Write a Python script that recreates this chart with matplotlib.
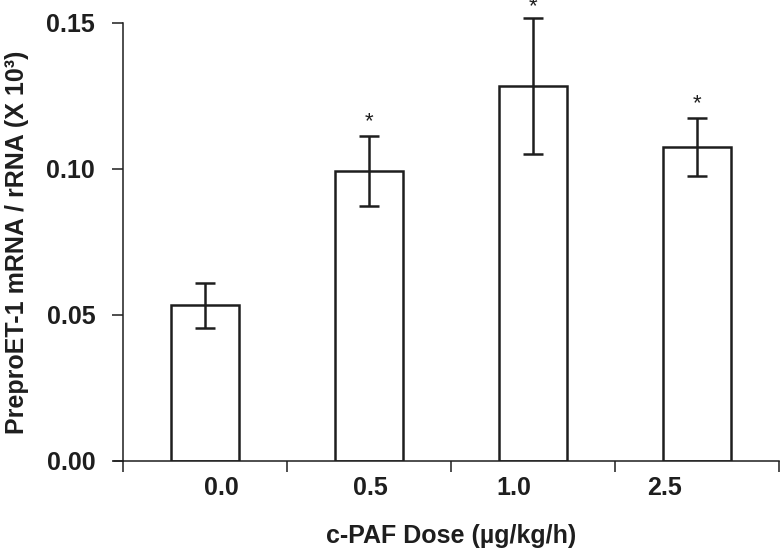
import matplotlib
matplotlib.use("Agg")
import matplotlib.pyplot as plt
from matplotlib.ticker import FormatStrFormatter, FixedLocator

# donnees
doses = ["0.0", "0.5", "1.0", "2.5"]
moyennes = [0.0533, 0.0992, 0.1283, 0.1075]
erreurs = [0.0077, 0.0120, 0.0233, 0.0099]
significatif = [False, True, True, True]

# decalage des etiquettes de l'axe x (elles ne sont pas centrees sur les barres)
decalage_etiquettes = [0.10, 0.01, -0.12, -0.20]

plt.rcParams['font.family'] = ['Liberation Sans', 'DejaVu Sans']
encre = "#1e1e1e"

fig = plt.figure(figsize=(7.81, 5.56), dpi=100)
ax = fig.add_axes([123/781, 95/556, 656/781, 438/556])

x = list(range(len(doses)))
ax.bar(x, moyennes, width=0.41, color="white", edgecolor=encre, linewidth=1.8, zorder=2)
eb = ax.errorbar(x, moyennes, yerr=erreurs, fmt="none", ecolor=encre, elinewidth=1.8,
                 capsize=7.5, capthick=1.8, zorder=3)
# la barre d'erreur de 1.0 depasse le haut de l'axe
for art in eb.lines[1] + eb.lines[2]:
    art.set_clip_on(False)

for i in range(len(doses)):
    if significatif[i]:
        # l'etoile de 1.0 est plus serree contre le bord en haut
        dy = 1 if moyennes[i] + erreurs[i] > 0.15 else 3
        ax.annotate("*", (x[i], moyennes[i] + erreurs[i]), xytext=(0, dy),
                    textcoords="offset points", ha="center", va="bottom",
                    fontsize=16, color=encre, annotation_clip=False)

ax.set_xlim(-0.5, len(doses) - 0.5)
ax.set_ylim(0, 0.15)

ax.spines["top"].set_visible(False)
ax.spines["right"].set_visible(False)
for s in ("left", "bottom"):
    ax.spines[s].set_linewidth(1.1)
    ax.spines[s].set_color(encre)

# ticks majeurs entre les categories, etiquettes en ticks mineurs
ax.xaxis.set_major_locator(FixedLocator([i - 0.5 for i in range(len(doses) + 1)]))
ax.xaxis.set_major_formatter(plt.NullFormatter())
ax.set_xticks([x[i] + decalage_etiquettes[i] for i in range(len(doses))], doses, minor=True)
ax.tick_params(axis="x", which="major", direction="out", length=8, width=1.1, color=encre)
ax.tick_params(axis="x", which="minor", length=0, pad=11, labelsize=18, labelcolor=encre)
for t in ax.get_xticklabels(minor=True):
    t.set_fontweight("bold")

ax.set_yticks([0, 0.05, 0.10, 0.15])
ax.yaxis.set_major_formatter(FormatStrFormatter("%.2f"))
ax.tick_params(axis="y", direction="out", length=8, width=1.1, color=encre,
               pad=12, labelsize=18, labelcolor=encre)
for t in ax.get_yticklabels():
    t.set_fontweight("bold")

# l'axe x depasse un peu a gauche
ax.plot([-0.013, 0], [0, 0], transform=ax.transAxes, color=encre, lw=1.1, clip_on=False)

ax.set_xlabel("c-PAF Dose (µg/kg/h)", fontsize=18, fontweight="bold", color=encre, labelpad=17)
ax.set_ylabel("PreproET-1 mRNA / rRNA (X 10³)", fontsize=18, fontweight="bold", color=encre)
ax.yaxis.set_label_coords(-0.143, 0.5)

fig.savefig("out.png", dpi=100)
